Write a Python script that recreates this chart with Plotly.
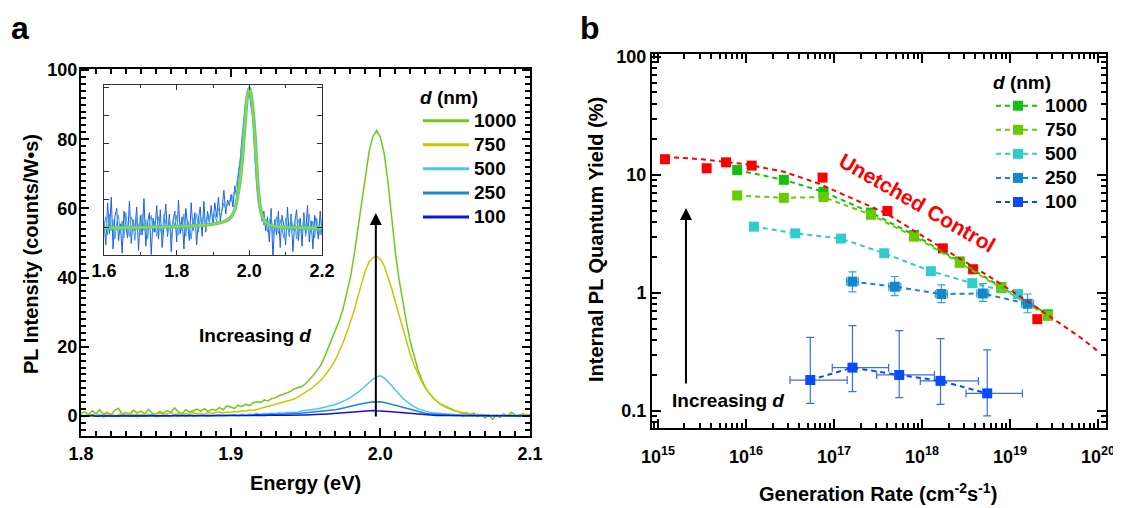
import plotly.graph_objects as go

FONT = "Liberation Sans, Arial, sans-serif"
W, H = 1121, 508
PAGE_OFFSET = 8  # the page body adds an 8 px margin around the figure

# ---------------- Panel a data: PL spectra ----------------
energy = [round(1.8 + 0.0025 * i, 4) for i in range(121)]

pl_1000 = [0.8, 1.2, 0.3, 1.5, 0.6, 1.8, 0.4, 1.1,
           0.2, 1.6, 2.2, 0.5, 1.0, 0.3, 1.7, 0.9,
           1.4, 0.6, 1.9, 0.8, 0.4, 1.3, 0.7, 1.6,
           1.0, 2.3, 1.2, 0.6, 1.8, 1.1, 1.5, 2.0,
           1.4, 2.1, 1.3, 1.9, 1.6, 2.4, 1.8, 2.9,
           2.6, 2.2, 3.1, 2.7, 3.4, 3.0, 3.8, 4.1,
           3.9, 4.6, 4.4, 5.0, 5.3, 5.9, 6.2, 6.6,
           7.1, 7.8, 8.2, 8.5, 9.3, 10.4, 11.6, 13.1,
           14.5, 16.8, 19.5, 22.0, 24.6, 27.5, 30.8, 35.0,
           40.0, 46.5, 54.0, 62.0, 70.0, 76.5, 80.8, 82.5,
           80.6, 76.0, 68.0, 57.5, 47.5, 39.5, 33.0, 27.0,
           21.5, 17.2, 13.6, 10.6, 8.3, 6.6, 5.3, 4.3,
           3.5, 3.0, 2.3, 2.0, 1.5, 1.2, 0.6, 1.0,
           0.4, 0.8, -0.2, 0.5, -0.6, 0.3, -1.0, 0.2,
           -0.4, 0.6, 0.1, 1.1, 0.3, -0.2, 0.7, 0.2, 0.4]

pl_750 = [0.4, -0.1, 0.6, 0.2, 0.8, 0.0, 0.5, 0.3,
          0.7, -0.2, 0.4, 0.6, 0.1, 0.9, 0.3, 0.5,
          0.2, 0.7, 0.4, 0.0, 0.6, 0.8, 0.3, 0.5,
          0.9, 0.4, 0.6, 0.2, 0.7, 0.5, 1.0, 0.6,
          0.8, 0.4, 1.0, 0.7, 0.9, 1.2, 0.8, 1.1,
          1.0, 1.3, 1.2, 1.5, 1.4, 1.7, 1.6, 1.9,
          2.2, 2.5, 2.8, 3.0, 3.3, 3.6, 3.9, 4.1,
          4.4, 4.9, 5.5, 6.1, 6.8, 7.5, 8.3, 9.2,
          10.2, 11.4, 12.8, 14.4, 16.3, 18.5, 21.0, 24.0,
          27.0, 30.5, 34.5, 38.5, 42.0, 44.5, 45.8, 46.2,
          45.3, 43.5, 40.5, 37.0, 33.0, 29.0, 25.0, 21.3,
          17.8, 14.8, 12.2, 10.0, 8.1, 6.6, 5.3, 4.3,
          3.4, 2.8, 2.2, 1.8, 1.4, 1.1, 0.9, 0.7,
          0.6, 0.3, 0.5, 0.1, 0.4, 0.2, -0.1, 0.3,
          0.0, 0.4, 0.1, 0.5, -0.2, 0.3, 0.1, 0.4, 0.2]

pl_500 = [0.1, -0.2, 0.2, 0.0, -0.1, 0.3, -0.3, 0.1,
          0.0, 0.2, -0.2, 0.1, -0.1, 0.2, 0.0, -0.2,
          0.2, -0.1, 0.1, 0.3, -0.2, 0.0, 0.2, -0.1,
          0.1, 0.3, -0.1, 0.2, 0.0, 0.1, 0.3, 0.0,
          0.2, 0.1, 0.3, 0.0, 0.2, 0.4, 0.1, 0.3,
          0.3, 0.4, 0.2, 0.5, 0.3, 0.5, 0.4, 0.6,
          0.5, 0.7, 0.6, 0.8, 0.7, 0.9, 0.8, 1.0,
          1.0, 1.2, 1.1, 1.4, 1.5, 1.7, 1.8, 2.0,
          2.2, 2.4, 2.7, 3.0, 3.3, 3.7, 4.2, 4.7,
          5.3, 6.0, 6.8, 7.7, 8.7, 9.7, 10.6, 11.3,
          11.6, 11.0, 10.0, 8.8, 7.5, 6.2, 5.1, 4.2,
          3.4, 2.7, 2.1, 1.7, 1.4, 1.1, 0.9, 0.8,
          0.8, 0.6, 0.5, 0.4, 0.3, 0.4, 0.2, 0.3,
          0.1, 0.3, 0.0, 0.2, 0.1, -0.1, 0.2, 0.0,
          0.1, 0.2, -0.1, 0.1, 0.0, 0.2, 0.1, -0.1, 0.1]

pl_250 = [0.0, 0.1, -0.1, 0.2, 0.0, -0.1, 0.1, 0.0,
          0.1, -0.1, 0.0, 0.2, 0.1, -0.1, 0.0, 0.1,
          -0.1, 0.1, 0.0, 0.2, 0.0, 0.1, -0.1, 0.1,
          0.0, 0.2, 0.1, 0.0, 0.1, 0.2, 0.0, 0.1,
          0.2, 0.1, 0.0, 0.2, 0.1, 0.2, 0.1, 0.2,
          0.2, 0.3, 0.1, 0.3, 0.2, 0.3, 0.3, 0.4,
          0.3, 0.4, 0.4, 0.5, 0.4, 0.5, 0.6, 0.5,
          0.6, 0.7, 0.7, 0.8, 0.9, 0.9, 1.0, 1.1,
          1.2, 1.3, 1.5, 1.6, 1.8, 2.0, 2.2, 2.5,
          2.7, 3.0, 3.3, 3.5, 3.8, 3.9, 4.1, 4.0,
          4.1, 3.9, 3.7, 3.5, 3.1, 2.8, 2.5, 2.2,
          1.8, 1.5, 1.2, 1.0, 0.8, 0.6, 0.5, 0.4,
          0.3, 0.3, 0.2, 0.2, 0.1, 0.2, 0.0, 0.1,
          0.1, 0.0, 0.1, -0.1, 0.1, 0.0, 0.1, 0.0,
          0.0, 0.1, -0.1, 0.1, 0.0, 0.1, 0.0, 0.1, 0.0]

pl_100 = [0.0, -0.1, 0.0, 0.1, -0.1, 0.0, 0.0, -0.1,
          0.1, 0.0, -0.1, 0.0, 0.1, 0.0, -0.1, 0.0,
          0.0, 0.1, -0.1, 0.0, 0.0, 0.1, 0.0, -0.1,
          0.0, 0.1, 0.0, 0.0, -0.1, 0.1, 0.0, 0.0,
          0.1, 0.0, 0.0, 0.1, 0.0, 0.1, 0.0, 0.1,
          0.1, 0.0, 0.1, 0.1, 0.0, 0.1, 0.1, 0.2,
          0.1, 0.1, 0.2, 0.1, 0.2, 0.2, 0.1, 0.2,
          0.2, 0.3, 0.2, 0.3, 0.3, 0.4, 0.3, 0.4,
          0.5, 0.5, 0.6, 0.7, 0.7, 0.9, 1.0, 1.1,
          1.2, 1.3, 1.4, 1.4, 1.5, 1.5, 1.6, 1.5,
          1.5, 1.4, 1.3, 1.2, 1.1, 0.9, 0.8, 0.7,
          0.6, 0.5, 0.4, 0.3, 0.3, 0.2, 0.2, 0.1,
          0.1, 0.1, 0.0, 0.1, 0.0, 0.0, 0.1, 0.0,
          0.0, -0.1, 0.0, 0.0, 0.1, 0.0, -0.1, 0.0,
          0.0, 0.1, 0.0, -0.1, 0.0, 0.0, 0.1, 0.0, 0.0]

# ---------------- Inset data: normalised spectra ----------------
inset_energy = [round(1.6 + 0.005 * i, 3) for i in range(121)]

norm_100 = [0.05, -0.12, 0.18, -0.04, 0.22, -0.15, 0.08, 0.14, -0.09, 0.03,
            -0.18, 0.12, 0.02, -0.07, 0.19, -0.11, 0.06, -0.02, 0.15, -0.16,
            0.09, -0.05, 0.21, -0.13, 0.04, 0.11, -0.19, 0.07, -0.03, 0.16,
            -0.08, 0.13, -0.14, 0.02, 0.17, -0.06, 0.10, -0.17, 0.05, 0.12,
            -0.10, 0.20, -0.04, 0.08, -0.15, 0.14, 0.01, -0.09, 0.18, -0.02,
            0.11, -0.12, 0.07, 0.15, -0.06, 0.19, -0.03, 0.12, 0.04, 0.16,
            0.02, 0.18, 0.08, 0.22, 0.05, 0.14, 0.27, 0.10, 0.20, 0.16,
            0.24, 0.15, 0.30, 0.22, 0.38, 0.47, 0.62, 0.78, 0.88, 0.93,
            0.97, 0.86, 0.80, 0.55, 0.38, 0.20, 0.14, 0.05, 0.12, -0.02,
            0.08, -0.10, 0.14, -0.22, 0.06, -0.05, 0.12, -0.14, 0.09, 0.01,
            -0.12, 0.15, -0.06, 0.10, -0.17, 0.04, 0.13, -0.09, 0.07, -0.13,
            0.11, -0.04, 0.16, -0.10, 0.05, -0.15, 0.09, 0.02, -0.08, 0.12, -0.05]

norm_250 = [0.02, 0.08, -0.05, 0.10, -0.02, 0.06, -0.08, 0.04, 0.09, -0.04,
            0.05, -0.07, 0.11, 0.00, -0.06, 0.08, 0.03, -0.09, 0.07, 0.01,
            -0.05, 0.10, -0.02, 0.06, -0.08, 0.04, 0.09, -0.03, 0.05, -0.06,
            0.08, 0.00, -0.07, 0.10, 0.03, -0.04, 0.07, -0.08, 0.05, 0.02,
            0.09, -0.05, 0.04, -0.02, 0.10, -0.06, 0.06, 0.01, -0.08, 0.07,
            0.03, 0.10, -0.03, 0.08, 0.02, 0.11, -0.01, 0.09, 0.05, 0.12,
            0.06, 0.10, 0.04, 0.14, 0.09, 0.12, 0.18, 0.13, 0.17, 0.20,
            0.19, 0.24, 0.27, 0.31, 0.39, 0.50, 0.66, 0.80, 0.92, 0.96,
            1.00, 0.90, 0.76, 0.52, 0.30, 0.18, 0.10, 0.07, 0.02, 0.06,
            -0.03, 0.05, 0.09, -0.06, 0.03, 0.08, -0.04, 0.06, 0.00, -0.07,
            0.07, 0.02, -0.05, 0.09, -0.02, 0.05, -0.08, 0.06, 0.03, -0.04,
            0.08, -0.06, 0.04, 0.10, -0.03, 0.05, -0.07, 0.07, 0.01, -0.05, 0.06]

fit_energy = [1.60, 1.70, 1.80, 1.85, 1.88, 1.90, 1.92, 1.935, 1.95, 1.96, 1.965,
              1.97, 1.975, 1.98, 1.985, 1.99, 1.995, 2.0, 2.005, 2.01, 2.015,
              2.02, 2.025, 2.03, 2.035, 2.04, 2.05, 2.06, 2.08, 2.10, 2.15, 2.20]
fit_norm = [0.0, 0.004, 0.010, 0.016, 0.022, 0.028, 0.038, 0.05, 0.08, 0.13, 0.19,
            0.26, 0.35, 0.47, 0.64, 0.81, 0.95, 1.0, 0.95, 0.84, 0.68,
            0.45, 0.26, 0.15, 0.09, 0.06, 0.03, 0.017, 0.008, 0.005, 0.002, 0.0]

thickness_labels = ["1000", "750", "500", "250", "100"]
spec_colors = ["#6CCB1C", "#C8C800", "#4CC4F4", "#1E88C8", "#1010E8"]

# ---------------- Panel b data: IQY vs generation rate ----------------
ctrl_G = [1.2e15, 3.57e15, 5.93e15, 1.16e16, 7.41e16, 4.04e17, 1.72e18, 3.8e18, 2.04e19]
ctrl_Q = [13.6, 11.4, 12.8, 12.0, 9.5, 4.95, 2.39, 1.59, 0.60]
ctrl_fit_G = [1.2e15, 3.16e15, 1.0e16, 2.63e16, 6.31e16, 1.66e17, 3.98e17, 7.94e17,
              2.0e18, 5.89e18, 1.58e19, 3.72e19, 6.31e19, 1.0e20]
ctrl_fit_Q = [14.2, 13.6, 12.3, 10.7, 8.6, 6.3, 4.7, 3.4, 2.25, 1.37, 0.85, 0.55, 0.42, 0.32]

G_1000 = [7.94e15, 2.69e16, 7.59e16, 2.63e17, 8.13e17, 2.69e18, 7.94e18, 2.69e19]
Q_1000 = [11.0, 9.1, 7.2, 4.8, 3.1, 1.85, 1.12, 0.66]
G_750 = [7.94e15, 2.69e16, 7.59e16, 2.63e17, 8.13e17, 2.69e18, 7.94e18, 2.69e19]
Q_750 = [6.7, 6.4, 6.5, 4.6, 3.0, 1.8, 1.1, 0.64]
G_500 = [1.23e16, 3.63e16, 1.2e17, 3.72e17, 1.26e18, 3.72e18, 1.23e19]
Q_500 = [3.65, 3.2, 2.89, 2.17, 1.53, 1.21, 0.98]
G_250 = [1.62e17, 4.9e17, 1.66e18, 4.9e18, 1.58e19]
Q_250 = [1.25, 1.13, 0.98, 0.99, 0.81]
Q_250_hi = [1.51, 1.38, 1.17, 1.20, 0.98]
Q_250_lo = [1.02, 0.95, 0.83, 0.85, 0.68]
G_100 = [5.37e16, 1.62e17, 5.5e17, 1.62e18, 5.5e18]
Q_100 = [0.183, 0.233, 0.202, 0.18, 0.141]
Q_100_hi = [0.42, 0.53, 0.48, 0.41, 0.33]
Q_100_lo = [0.116, 0.146, 0.13, 0.114, 0.091]
G_100_hi = [1.41e17, 4.17e17, 1.38e18, 4.37e18, 1.38e19]
G_100_lo = [3.16e16, 9.55e16, 3.05e17, 9.55e17, 3.16e18]

qy_colors = {"ctrl": "#FF0000", "1000": "#11C011", "750": "#66CC00",
             "500": "#2ECCCC", "250": "#1388CC", "100": "#0A4BF5"}

x_ticks = [1e15, 1e16, 1e17, 1e18, 1e19, 1e20]
x_ticktext = ["10<sup>15</sup>", "10<sup>16</sup>", "10<sup>17</sup>",
              "10<sup>18</sup>", "10<sup>19</sup>", "10<sup>20</sup>"]
y_ticks = [0.1, 1, 10, 100]
y_ticktext = ["0.1", "1", "10", "100"]

LEG_SPAN = '<span style="font-size:19px">{}</span>'

fig = go.Figure()

# ---- panel a traces ----
spectra = [pl_1000, pl_750, pl_500, pl_250, pl_100]
for lab, vals, col in zip(thickness_labels, spectra, spec_colors):
    fig.add_trace(go.Scatter(x=energy, y=vals, mode="lines", line=dict(color=col, width=1.5),
                             showlegend=False, xaxis="x", yaxis="y", hoverinfo="skip"))
for i, (lab, col) in enumerate(zip(thickness_labels, spec_colors)):
    fig.add_trace(go.Scatter(x=[None], y=[None], mode="lines", name=LEG_SPAN.format(lab),
                             line=dict(color=col, width=3), legend="legend",
                             legendrank=i + 1, xaxis="x", yaxis="y"))

# ---- inset traces ----
fig.add_trace(go.Scatter(x=inset_energy, y=norm_100, mode="lines",
                         line=dict(color="#1E5CF0", width=1), showlegend=False,
                         xaxis="x2", yaxis="y2"))
fig.add_trace(go.Scatter(x=inset_energy, y=norm_250, mode="lines",
                         line=dict(color="#3AA2DC", width=1), showlegend=False,
                         xaxis="x2", yaxis="y2"))
fig.add_trace(go.Scatter(x=fit_energy, y=fit_norm, mode="lines", line_shape="spline",
                         line=dict(color="#3CCCC0", width=3.5), showlegend=False,
                         xaxis="x2", yaxis="y2"))
fig.add_trace(go.Scatter(x=fit_energy, y=fit_norm, mode="lines", line_shape="spline",
                         line=dict(color="#B4D400", width=1.6), showlegend=False,
                         xaxis="x2", yaxis="y2"))

# ---- panel b traces ----
DASH = "5px,4px"
fig.add_trace(go.Scatter(x=ctrl_G, y=ctrl_Q, mode="markers",
                         marker=dict(symbol="square", size=10, color=qy_colors["ctrl"]),
                         showlegend=False, xaxis="x3", yaxis="y3"))

def add_series(G, Q, key, rank, err_y=None, err_x=None):
    fig.add_trace(go.Scatter(
        x=G, y=Q, mode="lines+markers", name=LEG_SPAN.format(key),
        line=dict(color=qy_colors[key], width=2, dash=DASH),
        marker=dict(symbol="square", size=10, color=qy_colors[key]),
        error_y=err_y, error_x=err_x,
        legend="legend2", legendrank=rank, xaxis="x3", yaxis="y3"))

add_series(G_1000, Q_1000, "1000", 1)
add_series(G_750, Q_750, "750", 2)
add_series(G_500, Q_500, "500", 3,
           err_y=dict(type="data", symmetric=False,
                      array=[q * 0.07 for q in Q_500], arrayminus=[q * 0.065 for q in Q_500],
                      color="#45D0D0", thickness=1.2, width=4))
add_series(G_250, Q_250, "250", 4,
           err_y=dict(type="data", symmetric=False,
                      array=[h - q for h, q in zip(Q_250_hi, Q_250)],
                      arrayminus=[q - l for q, l in zip(Q_250, Q_250_lo)],
                      color="#3A9FDA", thickness=1.2, width=4),
           err_x=dict(type="data", symmetric=False,
                      array=[g * 0.17 for g in G_250], arrayminus=[g - g / 1.17 for g in G_250],
                      color="#3A9FDA", thickness=1.2, width=4))
add_series(G_100, Q_100, "100", 5,
           err_y=dict(type="data", symmetric=False,
                      array=[h - q for h, q in zip(Q_100_hi, Q_100)],
                      arrayminus=[q - l for q, l in zip(Q_100, Q_100_lo)],
                      color="#3A6CF0", thickness=1.2, width=4),
           err_x=dict(type="data", symmetric=False,
                      array=[h - g for h, g in zip(G_100_hi, G_100)],
                      arrayminus=[g - l for g, l in zip(G_100, G_100_lo)],
                      color="#3A6CF0", thickness=1.2, width=4))
fig.add_trace(go.Scatter(x=ctrl_fit_G, y=ctrl_fit_Q, mode="lines",
                         line=dict(color=qy_colors["ctrl"], width=2, dash=DASH),
                         showlegend=False, xaxis="x3", yaxis="y3"))

# ---------------- layout ----------------
def px_x(p):
    return (p - PAGE_OFFSET) / W

def px_y(p):
    return 1 - (p - PAGE_OFFSET) / H

tickfont = dict(family=FONT, size=18, color="black", weight="bold")
axis_common = dict(showline=True, linecolor="black", linewidth=2, mirror="allticks",
                   ticks="inside", tickcolor="black", tickwidth=2, showgrid=False,
                   zeroline=False, tickfont=tickfont, automargin=False)

minor_log_x = [float(m) * 10.0 ** e for e in range(14, 20) for m in range(2, 10)]
minor_log_y = [float(m) * 10.0 ** e for e in range(-2, 2) for m in range(2, 10)]

def leg(x, y, itemwidth):
    return dict(x=x, y=y, xanchor="left", yanchor="top", bgcolor="rgba(0,0,0,0)",
                borderwidth=0, tracegroupgap=0, itemwidth=itemwidth,
                font=dict(family=FONT, size=16.2, color="black", weight="bold"),
                title=dict(text="<i>d</i> (nm)", font=dict(family=FONT, size=19, weight="bold")))

fig.update_layout(
    width=W, height=H, margin=dict(l=0, r=0, t=0, b=0, pad=0, autoexpand=False),
    autosize=False,
    paper_bgcolor="white", plot_bgcolor="white",
    font=dict(family=FONT, color="black"),
    xaxis=dict(domain=[px_x(81), px_x(530)], range=[1.8, 2.1], anchor="y",
               tickvals=[1.8, 1.9, 2.0, 2.1], ticktext=["1.8", "1.9", "2.0", "2.1"],
               ticklen=8, ticklabelstandoff=0,
               minor=dict(ticks="inside", dtick=0.01, ticklen=5, tickwidth=1.5, tickcolor="black"),
               **axis_common),
    yaxis=dict(domain=[px_y(436), px_y(69)], range=[-5.8, 100.3], anchor="x",
               tickvals=[0, 20, 40, 60, 80, 100], ticklen=8, ticklabelstandoff=-2,
               minor=dict(ticks="inside", dtick=2, tick0=0, ticklen=5, tickwidth=1.5, tickcolor="black"),
               **axis_common),
    xaxis2=dict(domain=[px_x(104), px_x(322)], range=[1.6, 2.2], anchor="y2",
                tickvals=[1.6, 1.8, 2.0, 2.2], ticktext=["1.6", "1.8", "2.0", "2.2"],
                showline=True, linecolor="#333", linewidth=1, mirror="allticks",
                ticks="inside", ticklen=5, tickwidth=1, tickcolor="#333",
                minor=dict(ticks="inside", dtick=0.1, ticklen=3, tickcolor="#333"),
                showgrid=False, zeroline=False, tickfont=tickfont, ticklabelstandoff=-1),
    yaxis2=dict(domain=[px_y(255), px_y(85)], range=[-0.193, 1.021], anchor="x2",
                tickvals=[0, 0.2, 0.4, 0.6, 0.8, 1.0], showticklabels=False,
                showline=True, linecolor="#333", linewidth=1, mirror="allticks",
                ticks="inside", ticklen=5, tickwidth=1, tickcolor="#333",
                showgrid=False, zeroline=False),
    xaxis3=dict(domain=[px_x(652), px_x(1106)], type="log", range=[14.932, 20.09], anchor="y3",
                tickvals=x_ticks, ticktext=x_ticktext, ticklen=9, ticklabelstandoff=11,
                minor=dict(ticks="inside", tickvals=minor_log_x, ticklen=5, tickwidth=1.5,
                           tickcolor="black"),
                **axis_common),
    yaxis3=dict(domain=[px_y(428), px_y(54)], type="log", range=[-1.144, 2.025], anchor="x3",
                tickvals=y_ticks, ticktext=y_ticktext, ticklen=9, ticklabelstandoff=0,
                minor=dict(ticks="inside", tickvals=minor_log_y, ticklen=5, tickwidth=1.5,
                           tickcolor="black"),
                **axis_common),
    legend=leg(px_x(418), px_y(79), 46),
    legend2=leg(px_x(991), px_y(64), 44),
)

def label(text, x, y, angle=0, size=20, color="black", xanchor="center"):
    return dict(text=text, x=px_x(x), y=px_y(y), xref="paper", yref="paper",
                xanchor=xanchor, yanchor="middle", textangle=angle, showarrow=False,
                font=dict(family=FONT, size=size, color=color, weight="bold"))

annotations = [
    dict(text="a", x=px_x(9), y=px_y(8), xref="paper", yref="paper", xanchor="left",
         yanchor="top", showarrow=False, font=dict(family=FONT, size=32, weight="bold")),
    dict(text="b", x=px_x(578), y=px_y(8), xref="paper", yref="paper", xanchor="left",
         yanchor="top", showarrow=False, font=dict(family=FONT, size=32, weight="bold")),
    label("Energy (eV)", 305, 483),
    label("PL Intensity (counts/W•s)", 31, 254, angle=-90),
    label("Internal PL Quantum Yield (%)", 596, 240, angle=-90),
    label("Generation Rate (cm<sup>-2</sup>s<sup>-1</sup>)", 878, 492),
    dict(x=1.997, y=58.7, ax=1.997, ay=-0.6, xref="x", yref="y", axref="x", ayref="y",
         text="", showarrow=True, arrowhead=2, arrowsize=1.2, arrowwidth=2, arrowcolor="black"),
    dict(text="Increasing <i>d</i>", x=1.916, y=23.4, xref="x", yref="y", showarrow=False,
         xanchor="center", yanchor="middle",
         font=dict(family=FONT, size=19, color="black", weight="bold")),
    dict(x=15.318, y=0.72, ax=15.318, ay=-0.78, xref="x3", yref="y3", axref="x3", ayref="y3",
         text="", showarrow=True, arrowhead=2, arrowsize=1.2, arrowwidth=2, arrowcolor="black"),
    dict(text="Increasing <i>d</i>", x=15.136, y=-0.915, xref="x3", yref="y3", xanchor="left",
         yanchor="middle", showarrow=False,
         font=dict(family=FONT, size=19, color="black", weight="bold")),
    dict(text="Unetched Control", x=17.94, y=0.763, xref="x3", yref="y3", textangle=30,
         xanchor="center", yanchor="middle", showarrow=False,
         font=dict(family=FONT, size=21, color="#FF0000", weight="bold")),
]
fig.update_layout(annotations=annotations)

fig.write_html("out.html")
